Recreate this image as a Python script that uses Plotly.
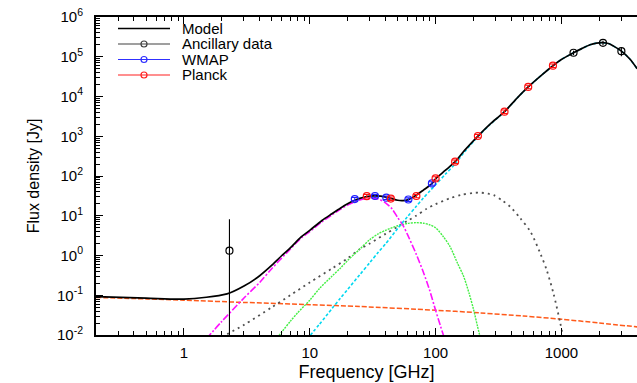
import math
import plotly.graph_objects as go

# ---------------------------------------------------------------------------
# Spectral energy distribution: flux density [Jy] versus frequency [GHz]
# ---------------------------------------------------------------------------

# Total model
model_freq = [0.2, 0.5, 1.0, 2.2, 3.0, 4.0, 5.0, 6.0, 7.0, 8.5, 10, 12.5, 15, 17.5,
              20, 22.8, 25, 28.4, 33, 40.6, 44, 50, 55, 60.8, 70.4, 80, 93.5, 100,
              120, 143, 170, 217, 270, 353, 450, 545, 700, 857, 1000, 1249, 1450,
              1690, 1900, 2141, 2400, 2600, 3000, 3500, 4000]
model_flux = [0.092, 0.085, 0.080, 0.108, 0.17, 0.31, 0.57, 1.0, 1.55, 2.9, 4.3, 7.6,
              11.2, 15.5, 20.0, 24.5, 27.3, 30.5, 31.5, 29.5, 27.5, 24.5, 24.0, 25.5,
              33, 44, 64, 85, 140, 229, 440, 1010, 2000, 4150, 9500, 17400, 35000,
              59500, 85000, 126000, 160000, 200000, 220000, 226000, 212000, 185000,
              138000, 88000, 50000]

# Free-free emission
ff_freq = [0.2, 0.5, 1.0, 3.0, 10, 25, 100, 226, 500, 1000, 2000, 4000]
ff_flux = [0.088, 0.081, 0.075, 0.066, 0.058, 0.052, 0.042, 0.036, 0.030, 0.025, 0.020, 0.016]

# Anomalous (spinning dust) emission
ame_freq = [1.5, 2.0, 3.0, 4.0, 5.0, 7.0, 8.5, 10, 12.5, 15, 17.5, 20, 25, 30, 35, 40,
            45, 50, 55, 60, 70, 80, 90, 100, 110, 118]
ame_flux = [0.0079, 0.022, 0.085, 0.21, 0.47, 1.45, 2.7, 4.0, 7.0, 10.5, 14.5, 18.5, 25,
            27.5, 26.5, 21, 15, 9.0, 5.8, 3.3, 1.1, 0.38, 0.13, 0.042, 0.016, 0.008]

# CMB
cmb_freq = [2.0, 3.0, 5.0, 7.0, 10, 15, 20, 25, 30, 40, 50, 60, 70, 85, 100, 130, 160,
            200, 230, 260, 290, 340, 392, 472, 567, 680, 764, 866, 980, 1040]
cmb_flux = [0.0089, 0.018, 0.05, 0.1, 0.21, 0.47, 0.85, 1.45, 2.0, 3.5, 5.3, 7.5, 10,
            15, 19.5, 27.5, 33.5, 37.5, 38, 36, 33, 24, 16.9, 8.6, 4.0, 1.13, 0.43,
            0.11, 0.02, 0.008]

# CMB fluctuation component
cmbf_freq = [5.5, 6.0, 7.0, 8.0, 10, 12, 15, 17.5, 20, 25, 30, 35, 40, 50, 60, 70, 80,
             90, 100, 115, 130, 150, 167, 185, 200, 215, 228]
cmbf_flux = [0.0085, 0.012, 0.022, 0.036, 0.075, 0.15, 0.3, 0.48, 0.75, 1.45, 2.5, 3.5,
             4.3, 5.6, 6.4, 6.7, 6.5, 5.9, 5.0, 3.0, 1.7, 0.62, 0.3, 0.11, 0.045,
             0.017, 0.008]

# Thermal dust
dust_freq = [9.5, 12, 15, 17.5, 20, 25, 30, 35, 40, 50, 60, 70, 80, 90, 100, 120, 143,
             170, 217, 270, 353, 450, 545, 700, 857, 1000, 1249, 1450, 1690, 1900,
             2141, 2400, 2600, 3000, 3500, 4000]
dust_flux = [0.0078, 0.019, 0.046, 0.084, 0.14, 0.33, 0.66, 1.2, 1.95, 4.8, 9.6, 17,
             28, 42, 60, 112, 200, 405, 975, 1960, 4130, 9500, 17400, 35000, 59500,
             85000, 126000, 160000, 200000, 220000, 226000, 212000, 185000, 138000,
             88000, 50000]

# Measurements
anc_freq = [2.3, 1249, 2141, 2998]
anc_flux = [1.32, 126000, 224000, 138000]
anc_err = [6.8, 16000, 28000, 35000]

wmap_freq = [22.8, 33.0, 40.6, 60.8, 93.5]
wmap_flux = [26.3, 31.4, 28.5, 25.6, 65.0]
wmap_err = [2.6, 3.1, 2.9, 2.6, 6.5]

planck_freq = [28.4, 44.1, 70.4, 100, 143, 217, 353, 545, 857]
planck_flux = [31.0, 27.0, 31.4, 87, 229, 1014, 4150, 17400, 59600]
planck_err = [3.1, 2.7, 3.1, 8.7, 23, 101, 415, 1740, 5960]

# Axis ticks
x_major = [1, 10, 100, 1000]
x_labels = ["1", "10", "100", "1000"]
x_minor = [m * d for d in (0.1, 1, 10, 100, 1000) for m in range(2, 10) if 0.2 <= m * d <= 4000]
y_major = [10.0 ** e for e in range(-2, 7)]
y_labels = ["10<sup>%d</sup>" % e for e in range(-2, 7)]
y_minor = [m * 10.0 ** e for e in range(-2, 6) for m in range(2, 10)]

legend_labels = ["Model", "Ancillary data", "WMAP", "Planck"]
legend_colors = ["black", "#404040", "#3030ff", "#ff2020"]

FONT = "Liberation Sans, Arial, Helvetica, sans-serif"

fig = go.Figure()


def add_curve(freq, flux, color, dash, width):
    fig.add_trace(go.Scatter(
        x=freq, y=flux, mode="lines",
        line=dict(color=color, dash=dash, width=width, shape="spline", smoothing=0.8),
        hoverinfo="skip", showlegend=False, cliponaxis=True))


add_curve(ff_freq, ff_flux, "#ff5a1a", "5px,2px", 1.5)
add_curve(cmb_freq, cmb_flux, "#505050", "2px,4px", 1.8)
add_curve(cmbf_freq, cmbf_flux, "#44ee44", "2px,1px", 1.4)
add_curve(ame_freq, ame_flux, "#ff10ff", "7px,2px,2px,2px", 1.6)
add_curve(dust_freq, dust_flux, "#00d8f0", "3px,2px", 1.6)
add_curve(model_freq, model_flux, "black", "solid", 1.7)


def add_points(freq, flux, err, color, cap):
    fig.add_trace(go.Scatter(
        x=freq, y=flux, mode="markers",
        marker=dict(symbol="circle-open", size=7, color=color, line=dict(width=1.2, color=color)),
        error_y=dict(type="data", array=err, visible=True, color=color, thickness=1.1, width=cap),
        hoverinfo="skip", showlegend=False))


add_points(anc_freq, anc_flux, anc_err, "black", 0)
add_points(wmap_freq, wmap_flux, wmap_err, "#2020ff", 3)
add_points(planck_freq, planck_flux, planck_err, "#ff1010", 3)

# Key in the upper-left corner of the plot area
plot_l, plot_r, plot_t, plot_b = 96, 637, 17, 335


def px(xp):
    return (xp - plot_l) / (plot_r - plot_l)


def py(yp):
    return (plot_b - yp) / (plot_b - plot_t)


shapes = []
annotations = []
rows = [28.5, 44, 59.5, 75]
for i, (label, color) in enumerate(zip(legend_labels, legend_colors)):
    yc = rows[i]
    shapes.append(dict(type="line", xref="paper", yref="paper",
                       x0=px(118), x1=px(170), y0=py(yc), y1=py(yc),
                       line=dict(color=color, width=1.4 if i == 0 else 1.1)))
    if i > 0:
        shapes.append(dict(type="circle", xref="paper", yref="paper",
                           x0=px(141), x1=px(147), y0=py(yc + 3), y1=py(yc - 3),
                           line=dict(color=color, width=1.2), fillcolor="rgba(0,0,0,0)"))
    annotations.append(dict(text=label, xref="paper", yref="paper", x=px(181), y=py(yc),
                            xanchor="left", yanchor="middle", showarrow=False, borderpad=0,
                            font=dict(family=FONT, size=15, color="black")))

axis_common = dict(
    type="log", showgrid=False, zeroline=False, showline=True, linewidth=2,
    linecolor="black", ticks="inside", ticklen=7, tickwidth=1.3, tickcolor="black",
    tickfont=dict(family=FONT, size=15, color="black"),
)

fig.update_layout(
    width=637, height=383,
    margin=dict(l=plot_l, r=637 - plot_r, t=plot_t, b=383 - plot_b),
    paper_bgcolor="white", plot_bgcolor="white",
    font=dict(family=FONT, color="black"),
    showlegend=False,
    shapes=shapes,
    annotations=annotations,
    xaxis=dict(
        axis_common, range=[math.log10(0.2), 3.601], mirror="ticks",
        tickmode="array", tickvals=x_major, ticktext=x_labels, ticklabelstandoff=3,
        minor=dict(tickmode="array", tickvals=x_minor, ticks="inside", ticklen=4,
                   tickwidth=1.2, tickcolor="black", showgrid=False),
        title=dict(text="Frequency [GHz]", font=dict(family=FONT, size=18), standoff=5),
    ),
    yaxis=dict(
        axis_common, range=[-2, 6], mirror=False,
        tickmode="array", tickvals=y_major, ticktext=y_labels, ticklabelstandoff=8,
        minor=dict(tickmode="array", tickvals=y_minor, ticks="inside", ticklen=4,
                   tickwidth=1.1, tickcolor="black", showgrid=False),
        title=dict(text="Flux density [Jy]", font=dict(family=FONT, size=16), standoff=13),
    ),
)

fig.write_html("out.html")
